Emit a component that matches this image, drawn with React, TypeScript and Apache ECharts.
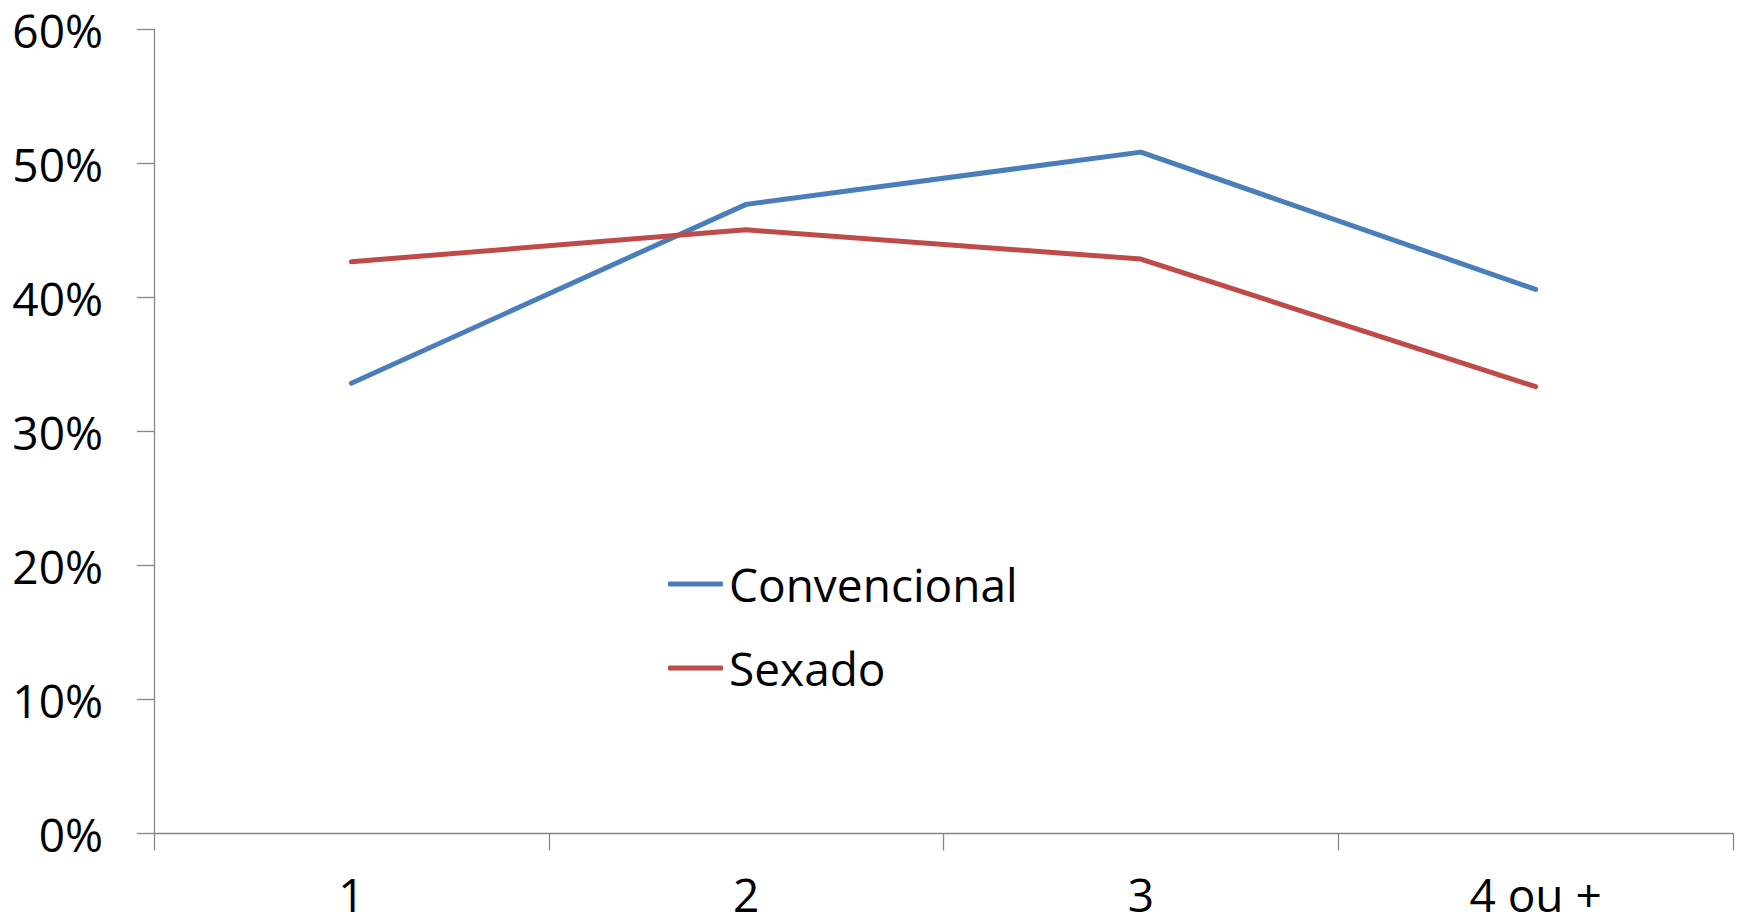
import React, { useEffect, useRef } from "react";
import * as echarts from "echarts";

const categories = ["1", "2", "3", "4 ou +"];
const convencional = [0.336, 0.4695, 0.5085, 0.406];
const sexado = [0.4267, 0.4505, 0.4287, 0.3334];
const seriesNames = ["Convencional", "Sexado"];
const yTicks = { min: 0, max: 0.6, interval: 0.1 };

export default function App() {
  const ref = useRef<HTMLDivElement>(null);
  useEffect(() => {
    document.body.style.margin = "0";
    const chart = echarts.init(ref.current!, null, { renderer: "svg" });
    const font = "'Open Sans', 'Noto Sans', sans-serif";
    const axisColor = "#868686";
    chart.setOption({
      animation: false,
      textStyle: { fontFamily: font, color: "#000" },
      grid: { left: 154, right: 9, top: 29.5, bottom: 90.5, containLabel: false },
      legend: {
        orient: "vertical",
        left: 668,
        top: 556,
        padding: 0,
        itemWidth: 55,
        itemHeight: 5,
        itemGap: 28,
        icon: "roundRect",
        data: seriesNames,
        textStyle: { fontSize: 46, lineHeight: 56, color: "#000", fontFamily: font, padding: [0, 0, 0, 1] },
      },
      xAxis: {
        type: "category",
        data: categories,
        boundaryGap: true,
        axisLine: { lineStyle: { color: axisColor, width: 1.3 } },
        axisTick: { show: true, length: 17, alignWithLabel: false, interval: 0, lineStyle: { color: axisColor, width: 1.3 } },
        axisLabel: { fontSize: 46, lineHeight: 30, color: "#000", margin: 45, fontFamily: font, interval: 0 },
        splitLine: { show: false },
      },
      yAxis: {
        type: "value",
        min: yTicks.min,
        max: yTicks.max,
        interval: yTicks.interval,
        axisLine: { show: true, lineStyle: { color: axisColor, width: 1.3 } },
        axisTick: { show: true, length: 17, lineStyle: { color: axisColor, width: 1.3 } },
        axisLabel: {
          fontSize: 46,
          color: "#000",
          margin: 51,
          fontFamily: font,
          formatter: (v: number) => Math.round(v * 100) + "%",
        },
        splitLine: { show: false },
      },
      series: [
        {
          name: seriesNames[0],
          type: "line",
          data: convencional,
          symbol: "none",
          lineStyle: { color: "#4A7EBB", width: 5, cap: "round" },
          itemStyle: { color: "#4A7EBB" },
        },
        {
          name: seriesNames[1],
          type: "line",
          data: sexado,
          symbol: "none",
          lineStyle: { color: "#BE4B48", width: 5, cap: "round" },
          itemStyle: { color: "#BE4B48" },
        },
      ],
    });
    return () => chart.dispose();
  }, []);
  return <div ref={ref} style={{ width: 1742, height: 924 }} />;
}
